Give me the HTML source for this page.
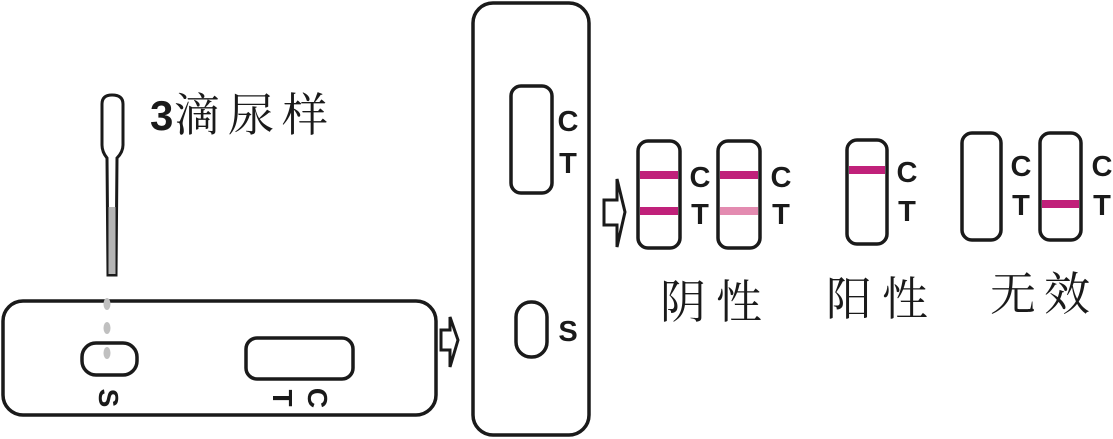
<!DOCTYPE html>
<html><head><meta charset="utf-8"><style>
html,body{margin:0;padding:0;background:#fff;}
svg{display:block;}
.b{font-family:"Liberation Sans",sans-serif;font-weight:bold;fill:#1a1a1a;}
.c{font-family:"Liberation Serif","Noto Serif CJK SC",serif;fill:#1a1a1a;}
</style></head><body>
<svg width="1113" height="439" viewBox="0 0 1113 439" xmlns="http://www.w3.org/2000/svg">
<g fill="none" stroke="#1a1a1a" stroke-width="3.5">
<path d="M102,145 L102,104 Q102,95 112,95 Q123,95 123,104 L123,145 Q123,152 117,158 L116,275 L108,275 L107,158 Q102,152 102,145 Z" stroke-width="3"/>
<rect x="3" y="301" width="433" height="114" rx="20"/>
<rect x="82" y="343" width="55" height="32" rx="14"/>
<rect x="246" y="338" width="107" height="41" rx="11"/>
<rect x="473" y="3" width="116" height="432" rx="20"/>
<rect x="511" y="86" width="41" height="107" rx="10"/>
<rect x="516" y="302" width="31" height="55" rx="15"/>
<rect x="638" y="141" width="42" height="107" rx="10"/>
<rect x="718" y="141" width="42" height="107" rx="10"/>
<rect x="847" y="140" width="40" height="104" rx="10"/>
<rect x="962" y="133" width="39" height="107" rx="10"/>
<rect x="1040" y="133" width="41" height="107" rx="10"/>
<path d="M441,330 L450,330 L450,317 L458,340 L450,367 L450,350 L441,350 Z" stroke-width="3"/>
<path d="M604,200 L617,200 L617,179 L625,212 L617,247 L617,225 L604,225 Z" stroke-width="3"/>
</g>
<rect x="108.5" y="207" width="7" height="67" fill="#b5b5b5"/>
<g fill="#c0c0c0">
<ellipse cx="107" cy="304" rx="3.5" ry="6"/>
<ellipse cx="107" cy="328" rx="3.5" ry="6"/>
<ellipse cx="107" cy="353" rx="3.5" ry="6"/>
</g>
<g>
<rect x="640" y="171" width="38" height="8" fill="#c0217a"/>
<rect x="640" y="207" width="38" height="8" fill="#c0217a"/>
<rect x="720" y="171" width="38" height="8" fill="#c0217a"/>
<rect x="720" y="207" width="38" height="8" fill="#e38bb0"/>
<rect x="849" y="166" width="36" height="8" fill="#c0217a"/>
<rect x="1042" y="200" width="37" height="8" fill="#c0217a"/>
</g>
<text class="b" x="150" y="130" font-size="42">3</text>
<text class="c" x="174" y="131" font-size="46" letter-spacing="8">滴尿样</text>
<text class="b" font-size="28" transform="translate(99,398) rotate(90)" text-anchor="middle">S</text>
<text class="b" font-size="28" transform="translate(273,398) rotate(90)" text-anchor="middle">T</text>
<text class="b" font-size="28" transform="translate(308,398) rotate(90)" text-anchor="middle">C</text>
<g class="b" font-size="29" text-anchor="middle">
<text x="568" y="131">C</text><text x="568" y="173">T</text><text x="568" y="341">S</text>
<text x="700" y="187">C</text><text x="700" y="224">T</text>
<text x="781" y="187">C</text><text x="781" y="224">T</text>
<text x="907" y="182">C</text><text x="907" y="221">T</text>
<text x="1021" y="176">C</text><text x="1021" y="215">T</text>
<text x="1102" y="176">C</text><text x="1102" y="215">T</text>
</g>
<g class="c" font-size="46">
<text x="660" y="318" letter-spacing="10">阴性</text>
<text x="826" y="315" letter-spacing="10">阳性</text>
<text x="990" y="310" letter-spacing="8">无效</text>
</g>
</svg>
</body></html>
